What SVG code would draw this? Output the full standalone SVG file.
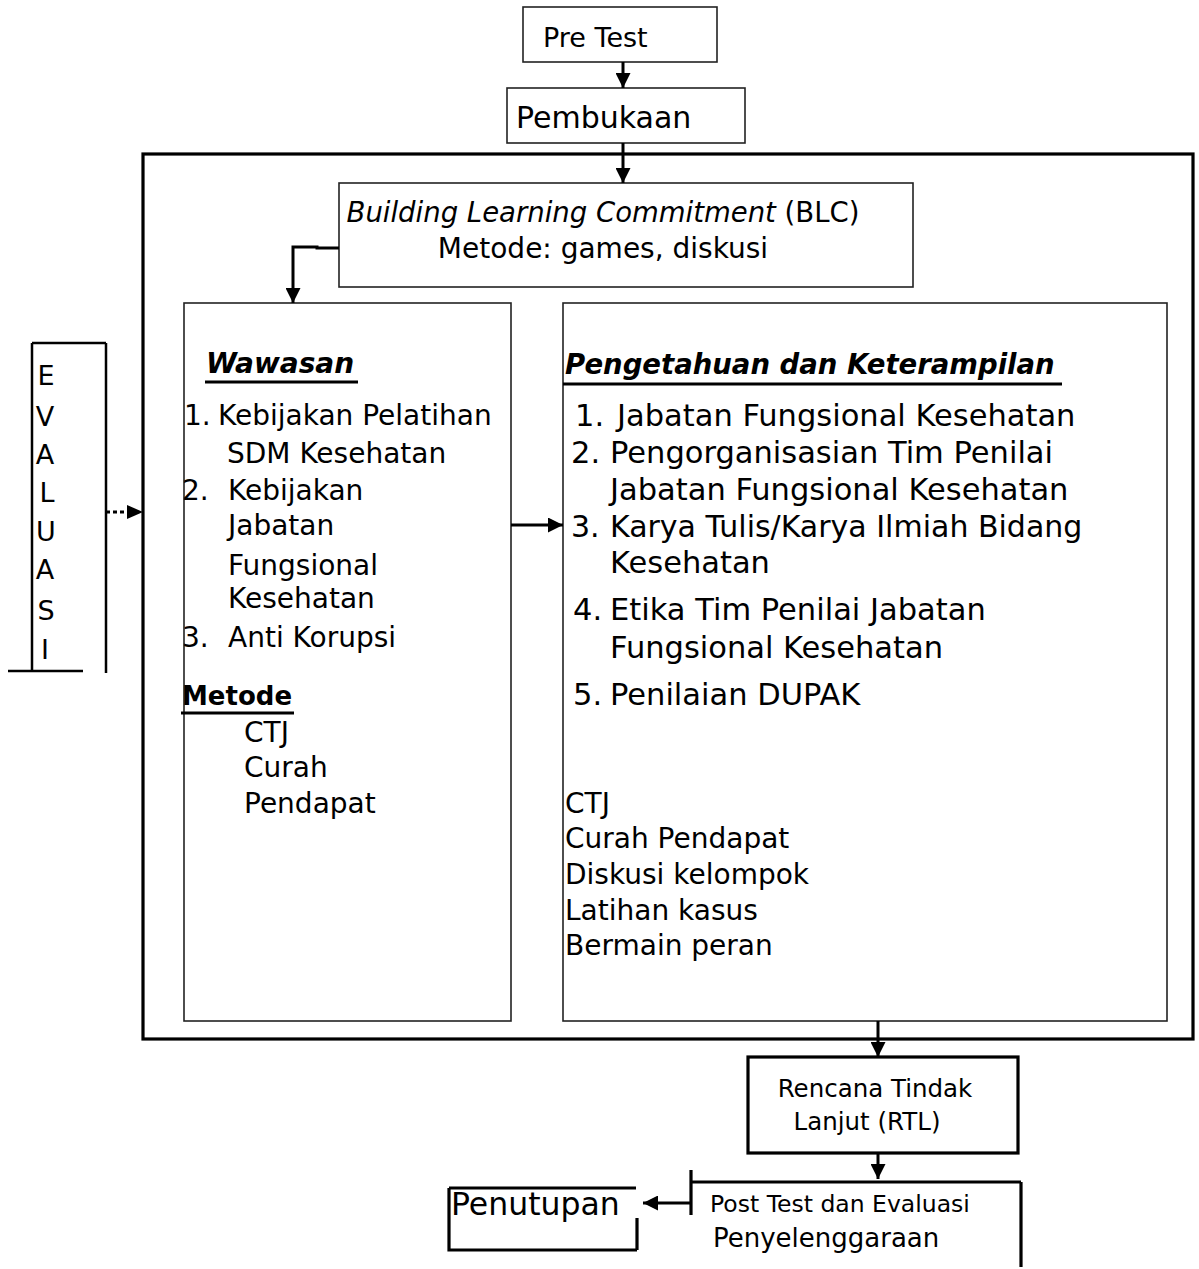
<svg xmlns="http://www.w3.org/2000/svg" width="1199" height="1269" viewBox="0 0 1199 1269">
<style>
text{font-family:"DejaVu Sans","Liberation Sans",sans-serif;fill:#000}
.thin{fill:none;stroke:#222;stroke-width:1.6}
.med{fill:none;stroke:#000;stroke-width:2.5}
.thick{fill:none;stroke:#000;stroke-width:3.2}
.conn{fill:none;stroke:#000;stroke-width:3}
.ul{stroke:#000;stroke-width:3}
.bi{font-weight:bold;font-style:italic}
</style>
<defs>
<marker id="ah" viewBox="0 0 10 10" refX="10" refY="5" markerWidth="5" markerHeight="5" markerUnits="strokeWidth" orient="auto">
<path d="M0,0 L10,5 L0,10 Z" fill="#000"/>
</marker>
</defs>

<g id="pretest">
<rect class="thin" x="523" y="7" width="194" height="55"/>
<text x="543" y="47" font-size="27">Pre Test</text>
</g>

<g id="pembukaan">
<rect class="thin" x="507" y="88" width="238" height="55"/>
<text x="516" y="128" font-size="30">Pembukaan</text>
</g>

<g id="main-frame">
<rect class="thick" x="143" y="154" width="1050" height="885"/>
</g>

<g id="blc">
<rect class="thin" x="339" y="183" width="574" height="104"/>
<text x="603" y="222" font-size="27.5" text-anchor="middle"><tspan font-style="italic">Building Learning Commitment</tspan> (BLC)</text>
<text x="603" y="258" font-size="28" text-anchor="middle">Metode: games, diskusi</text>
</g>

<g id="wawasan">
<rect class="thin" x="184" y="303" width="327" height="718"/>
<text x="206" y="373" font-size="28" class="bi">Wawasan</text>
<line class="ul" x1="205" y1="382" x2="358" y2="382"/>
<text font-size="28"><tspan x="184" y="425">1.</tspan><tspan x="218" y="425">Kebijakan Pelatihan</tspan></text>
<text x="227" y="463" font-size="28">SDM Kesehatan</text>
<text font-size="28"><tspan x="182" y="500">2.</tspan><tspan x="228" y="500">Kebijakan</tspan></text>
<text x="228" y="535" font-size="28">Jabatan</text>
<text x="228" y="575" font-size="28">Fungsional</text>
<text x="228" y="608" font-size="28">Kesehatan</text>
<text font-size="28"><tspan x="182" y="647">3.</tspan><tspan x="228" y="647">Anti Korupsi</tspan></text>
<text x="182" y="705" font-size="26" font-weight="bold">Metode</text>
<line class="ul" x1="181" y1="713" x2="294" y2="713"/>
<text x="244" y="742" font-size="28">CTJ</text>
<text x="244" y="777" font-size="28">Curah</text>
<text x="244" y="813" font-size="28">Pendapat</text>
</g>

<g id="pengetahuan">
<rect class="thin" x="563" y="303" width="604" height="718"/>
<text x="565" y="374" font-size="27.5" class="bi">Pengetahuan dan Keterampilan</text>
<line class="ul" x1="563" y1="384" x2="1062" y2="384"/>
<text font-size="30.5"><tspan x="575" y="426">1.</tspan><tspan x="617" y="426">Jabatan Fungsional Kesehatan</tspan></text>
<text font-size="30.5"><tspan x="571" y="463">2.</tspan><tspan x="610" y="463">Pengorganisasian Tim Penilai</tspan></text>
<text x="610" y="500" font-size="30.5">Jabatan Fungsional Kesehatan</text>
<text font-size="30"><tspan x="571" y="537">3.</tspan><tspan x="610" y="537">Karya Tulis/Karya Ilmiah Bidang</tspan></text>
<text x="610" y="573" font-size="30.5">Kesehatan</text>
<text font-size="30.5"><tspan x="573" y="620">4.</tspan><tspan x="610" y="620">Etika Tim Penilai Jabatan</tspan></text>
<text x="610" y="658" font-size="30.5">Fungsional Kesehatan</text>
<text font-size="30.5"><tspan x="573" y="705">5.</tspan><tspan x="610" y="705">Penilaian DUPAK</tspan></text>
<text x="565" y="813" font-size="28">CTJ</text>
<text x="565" y="848" font-size="28">Curah Pendapat</text>
<text x="565" y="884" font-size="28">Diskusi kelompok</text>
<text x="565" y="920" font-size="28">Latihan kasus</text>
<text x="565" y="955" font-size="28">Bermain peran</text>
</g>

<g id="evaluasi">
<path class="med" d="M32,343 H106 M32,343 V671 M106,343 V673 M8,671 H83"/>
<g font-size="27" text-anchor="middle">
<text x="46" y="385">E</text>
<text x="45" y="426">V</text>
<text x="45" y="464">A</text>
<text x="47" y="502">L</text>
<text x="46" y="541">U</text>
<text x="45" y="579">A</text>
<text x="46" y="620">S</text>
<text x="45" y="659">I</text>
</g>
</g>

<g id="rtl">
<rect class="thick" x="748" y="1057" width="270" height="96"/>
<text x="875" y="1097" font-size="24.5" text-anchor="middle">Rencana Tindak</text>
<text x="867" y="1130" font-size="24.5" text-anchor="middle">Lanjut (RTL)</text>
</g>

<g id="posttest">
<path class="thick" d="M691,1170 V1215 M691,1182 H1021 M1021,1182 V1267"/>
<text x="710" y="1212" font-size="23.5">Post Test dan Evaluasi</text>
<text x="713" y="1247" font-size="26">Penyelenggaraan</text>
</g>

<g id="penutupan">
<path class="thick" d="M449,1188 H636 M449,1188 V1250 H637 M637,1218 V1250"/>
<text x="451" y="1215" font-size="31.5">Penutupan</text>
</g>

<g id="connectors">
<line class="conn" x1="623" y1="62" x2="623" y2="88" marker-end="url(#ah)"/>
<line class="conn" x1="623" y1="143" x2="623" y2="183" marker-end="url(#ah)"/>
<polyline class="conn" stroke-width="2.5" points="339,248 317,248 317,247 293,247 293,303" marker-end="url(#ah)"/>
<line class="conn" x1="511" y1="525" x2="563" y2="525" marker-end="url(#ah)"/>
<line class="conn" x1="106" y1="512" x2="127" y2="512" stroke-dasharray="4,3"/>
<path d="M127,505 L143,512 L127,519 Z" fill="#000"/>
<line class="conn" x1="878" y1="1021" x2="878" y2="1057" marker-end="url(#ah)"/>
<line class="conn" x1="878" y1="1153" x2="878" y2="1179" marker-end="url(#ah)"/>
<line class="conn" x1="691" y1="1203" x2="643" y2="1203" marker-end="url(#ah)"/>
</g>
</svg>
